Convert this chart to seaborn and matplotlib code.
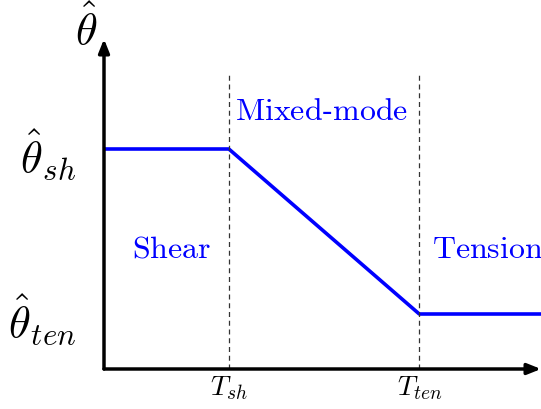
import numpy as np
import pandas as pd
import matplotlib
matplotlib.use("Agg")
import matplotlib.pyplot as plt
import seaborn as sns

# piecewise curve of theta-hat against T
t_vals = [0, 2, 5.05, 7]
theta_vals = [4, 4, 1, 1]
x_ticks = [2, 5.05]
x_labels = [r"$T_{sh}$", r"$T_{ten}$"]
y_ticks = [1, 4]
y_labels = [r"$\hat{\theta}_{ten}$", r"$\hat{\theta}_{sh}$"]
region_names = ["Shear", "Mixed-mode", "Tension"]

sns.set_style("white")
plt.rcParams["mathtext.fontset"] = "cm"
plt.rcParams["font.family"] = ["DejaVu Serif"]

fig = plt.figure(figsize=(5.41, 4.10), dpi=100)
ax = fig.add_axes([104/541, 40/410, 437/541, 330/410])

df = pd.DataFrame({"T": t_vals, "theta": theta_vals})
sns.lineplot(data=df, x="T", y="theta", color="#0000ff", lw=2.6, ax=ax)

for xv in x_ticks:
    ax.plot([xv, xv], [0, 5.4], ls=(0, (4, 3)), color="#333333", lw=0.9)

ax.set_xlim(0, 7)
ax.set_ylim(0, 6)
for s in ax.spines.values():
    s.set_visible(False)

# axis arrows
arrow = dict(arrowstyle="-|>,head_length=0.8,head_width=0.32", lw=2.5, color="black",
             shrinkA=0, shrinkB=0)
ax.annotate("", xy=(1.0, 0), xytext=(0, 0), xycoords="axes fraction",
            arrowprops=arrow, annotation_clip=False)
ax.annotate("", xy=(0, 1.0), xytext=(0, 0), xycoords="axes fraction",
            arrowprops=arrow, annotation_clip=False)

ax.set_xticks(x_ticks)
ax.set_xticklabels(x_labels, fontsize=20, color="black")
ax.set_yticks(y_ticks)
ax.set_yticklabels(y_labels, fontsize=32, color="black")
ax.tick_params(axis="x", length=0, pad=3)
ax.tick_params(axis="y", length=0, pad=20)
ax.set_xlabel("")
ax.set_ylabel("")

ax.text(-0.041, 1.03, r"$\hat{\theta}$", transform=ax.transAxes, fontsize=32,
        ha="center", va="center", clip_on=False, color="black")

ax.text(1.08, 2.2, r"$\mathrm{%s}$" % region_names[0], color="#0000ff", fontsize=23,
        ha="center", va="center")
ax.text(2.1, 4.7, r"$\mathrm{%s}$" % region_names[1].replace("-", "\u2010"), color="#0000ff", fontsize=23,
        ha="left", va="center")
# the reference also runs this label past the right edge
ax.text(5.25, 2.2, r"$\mathrm{%s}$" % region_names[2], color="#0000ff", fontsize=23,
        ha="left", va="center", clip_on=False)

fig.savefig("out.png", dpi=100)
